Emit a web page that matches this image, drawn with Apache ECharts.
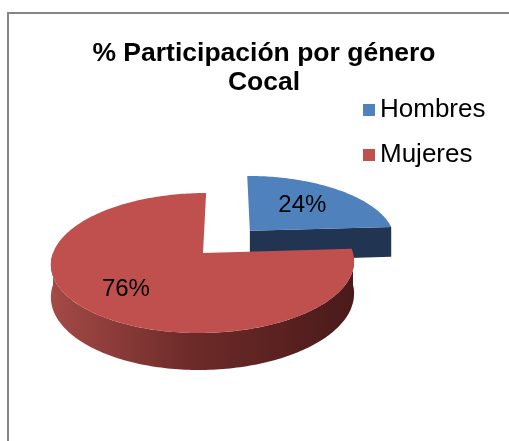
<!DOCTYPE html>
<html>
<head>
<meta charset="utf-8">
<script src="https://cdn.jsdelivr.net/npm/echarts@6/dist/echarts.min.js"></script>
<style>
  html, body { margin: 0; padding: 0; background: #fff; }
  #main { width: 509px; height: 441px; }
</style>
</head>
<body>
<div id="main"></div>
<script>
// datos del grafico
var categories = ['Hombres', 'Mujeres'];
var values = [24, 76];

// estilo / geometria del pastel 3D
var topColors = ['#4f81bd', '#c0504d'];
var faceColors = ['#213552', '#4a1a1a'];
var CX = 203, CY = 253, VX = 228, R = 150, TILT = 0.457, PERSP = 0.143, DEPTH = 31.7;
var EXPLODE = [70, 0];
var LABEL_POS = [0.58, 0.68];

var total = values.reduce(function (a, b) { return a + b; }, 0);

// proyeccion simple con perspectiva: u derecha, v hacia el fondo, z hacia abajo
function proj(u, v, z) {
  var s = 1 / (1 + PERSP * v / R);
  return [VX + (CX + u - VX) * s, CY - v * TILT * s + (z || 0) * s];
}

function rim(c, th, z, f) {
  f = f == null ? 1 : f;
  return proj(c[0] + R * f * Math.sin(th), c[1] + R * f * Math.cos(th), z);
}

function arc(c, a, b, z) {
  var pts = [];
  var n = Math.max(2, Math.ceil((b - a) / 0.02));
  for (var k = 0; k <= n; k++) pts.push(rim(c, a + (b - a) * k / n, z));
  return pts;
}

function renderSlice(idx) {
  return function (params, api) {
    var start = 0;
    for (var i = 0; i < idx; i++) start += values[i];
    var ts = start / total * 2 * Math.PI;
    var te = (start + api.value(0)) / total * 2 * Math.PI;
    var mid = (ts + te) / 2;
    var c = [EXPLODE[idx] * Math.sin(mid), EXPLODE[idx] * Math.cos(mid)];
    var c0 = proj(c[0], c[1], 0), c1 = proj(c[0], c[1], DEPTH);
    var children = [];

    // caras radiales visibles
    [[ts, Math.sin(ts) < -1e-6], [te, Math.sin(te) > 1e-6]].forEach(function (f) {
      if (!f[1]) return;
      children.push({
        type: 'polygon',
        shape: { points: [c0, rim(c, f[0], 0), rim(c, f[0], DEPTH), c1] },
        style: { fill: faceColors[idx] }
      });
    });

    // lado exterior (mitad frontal)
    var a = Math.max(ts, Math.PI / 2), b = Math.min(te, 3 * Math.PI / 2);
    if (b > a) {
      var pts = arc(c, a, b, 0).concat(arc(c, a, b, DEPTH).reverse());
      children.push({
        type: 'polygon',
        shape: { points: pts },
        style: {
          fill: idx === 1 ? {
            type: 'linear', x: 0, y: 0, x2: 1, y2: 0,
            colorStops: [
              { offset: 0, color: '#a44a47' },
              { offset: 0.45, color: '#6e2b29' },
              { offset: 1, color: '#4a1a1a' }
            ]
          } : faceColors[idx]
        }
      });
    }

    // cara superior
    children.push({
      type: 'polygon',
      shape: { points: [c0].concat(arc(c, ts, te, 0)) },
      style: { fill: topColors[idx] }
    });

    // etiqueta de porcentaje
    var lp = rim(c, mid, 0, LABEL_POS[idx]);
    children.push({
      type: 'text',
      x: lp[0],
      y: lp[1],
      style: {
        text: Math.round(api.value(0) / total * 100) + '%',
        fill: '#000',
        fontSize: 24,
        fontFamily: 'Liberation Sans, Arial, sans-serif',
        align: 'center',
        verticalAlign: 'middle'
      }
    });

    return { type: 'group', children: children };
  };
}

var myChart = echarts.init(document.getElementById('main'));
var option = {
  animation: false,
  title: {
    text: '% Participación por género\nCocal',
    left: 264,
    top: 39,
    padding: 0,
    textAlign: 'center',
    textStyle: {
      fontFamily: 'Liberation Sans, Arial, sans-serif',
      fontSize: 26.5,
      fontWeight: 'bold',
      lineHeight: 29,
      color: '#000'
    }
  },
  legend: {
    orient: 'vertical',
    left: 363,
    top: 95,
    padding: 0,
    icon: 'rect',
    itemWidth: 12,
    itemHeight: 12,
    itemGap: 15,
    data: categories,
    textStyle: {
      fontFamily: 'Liberation Sans, Arial, sans-serif',
      fontSize: 26,
      lineHeight: 30,
      color: '#000'
    }
  },
  graphic: [{
    type: 'rect',
    shape: { x: 8, y: 13, width: 540, height: 460 },
    style: { fill: 'none', stroke: '#868686', lineWidth: 2 },
    silent: true
  }],
  series: categories.map(function (name, i) {
    return {
      type: 'custom',
      name: name,
      coordinateSystem: 'none',
      itemStyle: { color: topColors[i] },
      renderItem: renderSlice(i),
      data: [values[i]]
    };
  })
};
myChart.setOption(option);
</script>
</body>
</html>
